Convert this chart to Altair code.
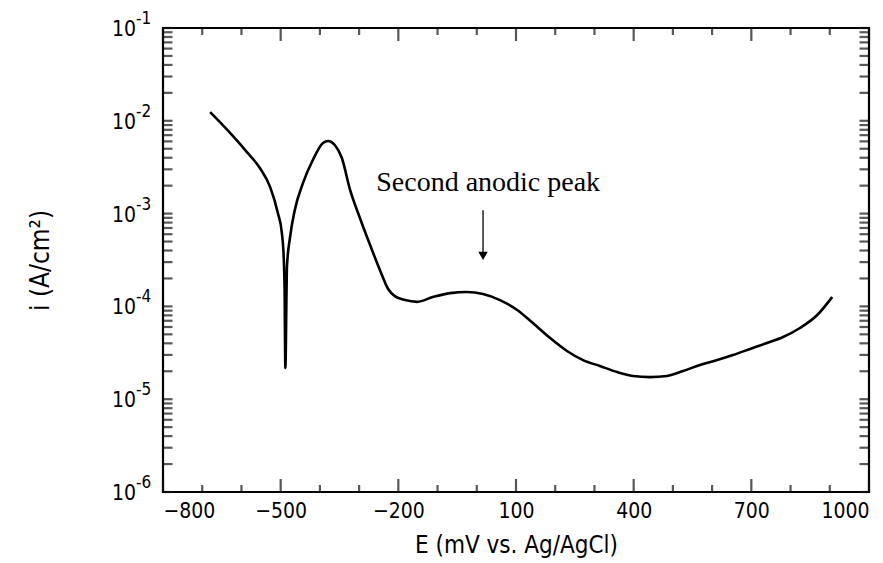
import altair as alt
import pandas as pd

# Polarization curve
E_mV = [-680, -629, -586, -553, -527, -507, -497, -492, -490, -488, -485, -484,
        -476, -464, -443, -418, -392, -379, -362, -344, -323, -298, -272, -247,
        -226, -209, -183, -152, -112, -68, -25, 16, 59, 103, 143, 187, 230, 271,
        314, 358, 398, 442, 485, 526, 569, 613, 653, 697, 740, 781, 824, 868, 906]
i_A = [1.24e-2, 7.4e-3, 4.6e-3, 3.1e-3, 1.94e-3, 1.01e-3, 6.2e-4, 3.2e-4, 1.5e-4,
       2.17e-5, 1.5e-4, 2.66e-4, 5.6e-4, 1.09e-3, 2.14e-3, 3.78e-3, 5.77e-3,
       6.05e-3, 5.48e-3, 3.97e-3, 1.8e-3, 8.97e-4, 4.59e-4, 2.47e-4, 1.54e-4,
       1.29e-4, 1.17e-4, 1.12e-4, 1.26e-4, 1.39e-4, 1.43e-4, 1.36e-4, 1.17e-4,
       9.15e-5, 6.62e-5, 4.56e-5, 3.31e-5, 2.64e-5, 2.28e-5, 1.96e-5, 1.78e-5,
       1.73e-5, 1.78e-5, 2.01e-5, 2.34e-5, 2.64e-5, 2.99e-5, 3.48e-5, 4.04e-5,
       4.68e-5, 5.85e-5, 8.07e-5, 1.26e-4]

# Axis ticks
x_major = [-800, -500, -200, 100, 400, 700, 1000]
x_minor = [-700, -600, -400, -300, -100, 0, 200, 300, 500, 600, 800, 900]
y_decades = [1e-6, 1e-5, 1e-4, 1e-3, 1e-2, 1e-1]
y_exponents = ["-6", "-5", "-4", "-3", "-2", "-1"]
y_minor = [m * d for d in [1e-6, 1e-5, 1e-4, 1e-3, 1e-2] for m in range(2, 10)]

# Annotation
note_text = ["Second anodic peak"]
note_E = [29]
note_i = [2.14e-3]
arrow_E = [16]
arrow_top = [1.09e-3]
arrow_tip = [3.3e-4]
head_i = [3.5e-4]

W, H = 706, 464
FONT = "DejaVu Sans Condensed"

xs = alt.Scale(domain=[-800, 1000], nice=False, zero=False)
ys = alt.Scale(type="log", domain=[1e-6, 1e-1], nice=False)

curve_df = pd.DataFrame({"E": E_mV, "i": i_A})
xmaj_df = pd.DataFrame({"xt": x_major})
xmin_df = pd.DataFrame({"xm": x_minor})
yt_df = pd.DataFrame({"yt": y_decades + y_minor})
ylab_df = pd.DataFrame({"v": y_decades, "exp": y_exponents})
note_df = pd.DataFrame({"E": note_E, "i": note_i, "t": note_text})
arrow_df = pd.DataFrame({"E": arrow_E, "i1": arrow_top, "i2": arrow_tip, "ih": head_i})

curve = alt.Chart(curve_df).mark_line(
    color="black", strokeWidth=2.6, interpolate="monotone"
).encode(
    x=alt.X("E:Q", scale=xs, axis=alt.Axis(
        values=x_major, format="d", ticks=False, domain=False, grid=False,
        labelFont=FONT, labelFontSize=21, labelColor="black", labelPadding=8,
        title="E  (mV  vs.  Ag/AgCl)", titleFont=FONT, titleFontSize=24,
        titleFontWeight="normal", titleColor="black", titleY=53,
        titleBaseline="middle")),
    y=alt.Y("i:Q", scale=ys, axis=alt.Axis(
        values=y_decades, ticks=False, domain=False, grid=False, labels=False,
        title="i   (A/cm²)", titleFont=FONT, titleFontSize=26,
        titleFontWeight="normal", titleColor="black", titleX=-123, titleY=232,
        titleAlign="center", titleBaseline="middle")),
)


def xticks(df, field, length):
    bottom = alt.Chart(df).mark_tick(
        orient="vertical", size=length, thickness=2.2, color="#111111"
    ).encode(x=alt.X(f"{field}:Q", scale=xs), y=alt.value(H - length / 2))
    top = alt.Chart(df).mark_tick(
        orient="vertical", size=length, thickness=2.2, color="#111111"
    ).encode(x=alt.X(f"{field}:Q", scale=xs), y=alt.value(length / 2))
    return [bottom, top]


yt_left = alt.Chart(yt_df).mark_tick(
    orient="horizontal", size=9, thickness=2.2, color="#111111"
).encode(y=alt.Y("yt:Q", scale=ys), x=alt.value(5))
yt_right = alt.Chart(yt_df).mark_tick(
    orient="horizontal", size=9, thickness=2.2, color="#111111"
).encode(y=alt.Y("yt:Q", scale=ys), x=alt.value(W - 5))

ylab_base = alt.Chart(ylab_df).mark_text(
    font=FONT, fontSize=21, align="right", baseline="middle", color="black", dy=2
).encode(y=alt.Y("v:Q", scale=ys), x=alt.value(-27), text=alt.value("10"))
ylab_exp = alt.Chart(ylab_df).mark_text(
    font=FONT, fontSize=17, align="left", baseline="middle", color="black", dy=-9
).encode(y=alt.Y("v:Q", scale=ys), x=alt.value(-27), text="exp:N")

note = alt.Chart(note_df).mark_text(
    font="Liberation Serif", fontSize=28, align="center", baseline="middle",
    color="black"
).encode(x=alt.X("E:Q", scale=xs), y=alt.Y("i:Q", scale=ys), text="t:N")

shaft = alt.Chart(arrow_df).mark_rule(color="black", strokeWidth=1.3).encode(
    x=alt.X("E:Q", scale=xs), y=alt.Y("i1:Q", scale=ys), y2="i2:Q")
head = alt.Chart(arrow_df).mark_point(
    shape="triangle-down", filled=True, color="black", size=90, opacity=1
).encode(x=alt.X("E:Q", scale=xs), y=alt.Y("ih:Q", scale=ys))

chart = alt.layer(
    curve, *xticks(xmaj_df, "xt", 13), *xticks(xmin_df, "xm", 7), yt_left, yt_right,
    ylab_base, ylab_exp, note, shaft, head
).properties(
    width=W, height=H,
    autosize=alt.AutoSizeParams(type="none"),
    padding={"left": 163, "top": 28, "right": 14, "bottom": 71},
    background="white",
).configure_view(stroke="black", strokeWidth=2.2)

chart.save("out.html", embed_options={"renderer": "svg", "actions": False})
